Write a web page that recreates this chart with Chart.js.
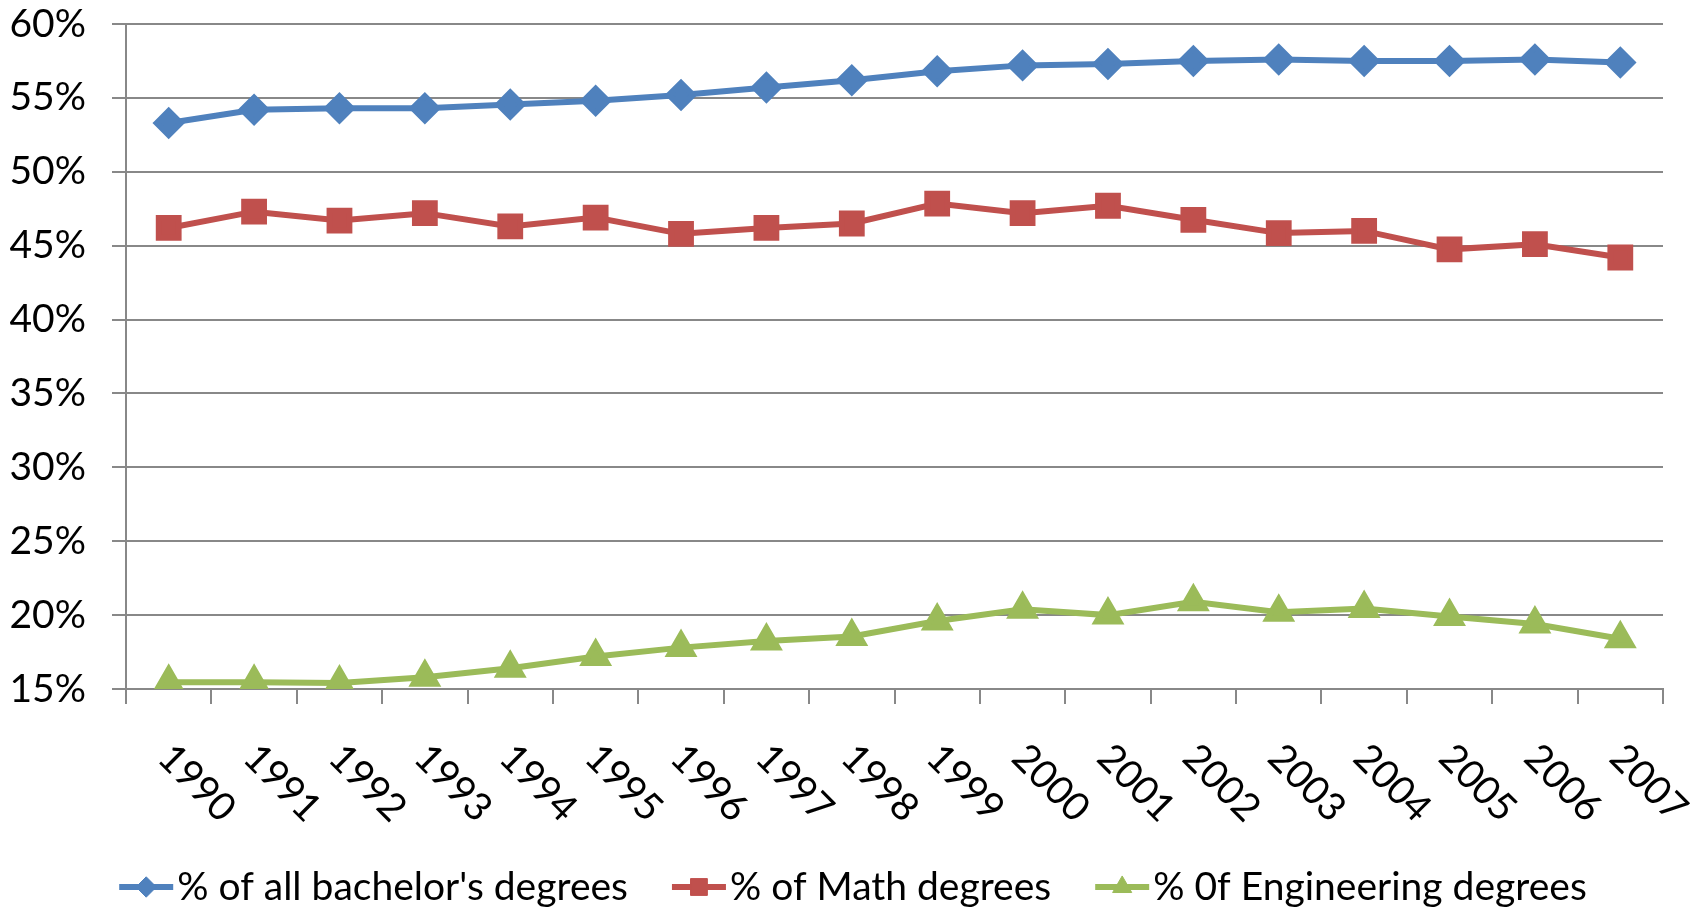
<!DOCTYPE html>
<html>
<head>
<meta charset="utf-8">
<script src="https://cdn.jsdelivr.net/npm/chart.js"></script>
<style>
  body { margin: 0; background: #fff; }
  #wrap { width: 1706px; height: 913px; position: relative; }
</style>
</head>
<body>
<div id="wrap"><canvas id="chart"></canvas></div>
<script>
// data
var years = ['1990','1991','1992','1993','1994','1995','1996','1997','1998',
             '1999','2000','2001','2002','2003','2004','2005','2006','2007'];
var allDegrees = [53.3, 54.2, 54.3, 54.3, 54.55, 54.8, 55.2, 55.7, 56.2,
                  56.8, 57.2, 57.3, 57.5, 57.6, 57.5, 57.5, 57.6, 57.4];
var mathDegrees = [46.2, 47.3, 46.7, 47.2, 46.3, 46.9, 45.8, 46.2, 46.5,
                   47.85, 47.2, 47.7, 46.75, 45.85, 46.0, 44.75, 45.1, 44.2];
var engDegrees = [15.45, 15.45, 15.4, 15.8, 16.4, 17.2, 17.8, 18.25, 18.55,
                  19.6, 20.4, 20.0, 20.9, 20.2, 20.45, 19.9, 19.4, 18.4];
var yTicks = [15, 20, 25, 30, 35, 40, 45, 50, 55, 60];

var FONT_FAMILY = 'Lato, "Open Sans", sans-serif';
var FONT_SIZE = 39;
var gridColor = '#888888';

// rotated year labels + legend with line and marker
var extrasPlugin = {
  id: 'extras',
  afterDraw: function(chart) {
    var ctx = chart.ctx;
    var xScale = chart.scales.x;
    ctx.save();
    ctx.font = FONT_SIZE + 'px ' + FONT_FAMILY;
    ctx.fillStyle = '#000';
    ctx.textBaseline = 'middle';
    ctx.textAlign = 'left';
    for (var i = 0; i < years.length; i++) {
      ctx.save();
      ctx.translate(xScale.getPixelForValue(i) - 4, chart.chartArea.bottom + 62);
      ctx.rotate(Math.PI / 4);
      ctx.fillText(years[i], 0, 0);
      ctx.restore();
    }

    // legend
    var lineLen = 54, gapText = 4, gapItem = 44, legendY = 887;
    var sets = chart.data.datasets;
    var widths = sets.map(function(ds) { return lineLen + gapText + ctx.measureText(ds.label).width; });
    var total = widths.reduce(function(a, b) { return a + b; }, 0) + gapItem * (sets.length - 1);
    var x = (chart.width - total) / 2;
    sets.forEach(function(ds, k) {
      ctx.strokeStyle = ds.borderColor;
      ctx.lineWidth = ds.borderWidth;
      ctx.beginPath();
      ctx.moveTo(x, legendY);
      ctx.lineTo(x + lineLen, legendY);
      ctx.stroke();
      ctx.fillStyle = ds.pointBackgroundColor;
      ctx.strokeStyle = ds.pointBorderColor;
      ctx.lineWidth = 1;
      Chart.helpers.drawPoint(ctx, {pointStyle: ds.pointStyle, radius: ds.pointRadius * 0.85, rotation: 0, borderWidth: 1},
        x + lineLen / 2, legendY);
      ctx.fillStyle = '#000';
      ctx.fillText(ds.label, x + lineLen + gapText, legendY);
      x += widths[k] + gapItem;
    });
    ctx.restore();
  }
};

function series(label, data, color, style, radius) {
  return {
    label: label,
    data: data,
    borderColor: color,
    backgroundColor: color,
    pointBackgroundColor: color,
    pointBorderColor: color,
    borderWidth: 6,
    pointStyle: style,
    pointRadius: radius,
    pointHoverRadius: radius,
    tension: 0
  };
}

var ctx = document.getElementById('chart').getContext('2d');
var myChart = new Chart(ctx, {
  type: 'line',
  data: {
    labels: years,
    datasets: [
      series("% of all bachelor's degrees", allDegrees, '#4F81BD', 'rectRot', 12),
      series('% of Math degrees', mathDegrees, '#C0504D', 'rect', 14),
      series('% 0f Engineering degrees', engDegrees, '#9BBB59', 'triangle', 13)
    ]
  },
  options: {
    responsive: true,
    maintainAspectRatio: false,
    animation: false,
    layout: { padding: { top: 24, right: 43, left: 0, bottom: 0 } },
    plugins: {
      legend: { display: false },
      tooltip: { enabled: false }
    },
    scales: {
      x: {
        offset: true,
        grid: {
          offset: true,
          drawOnChartArea: false,
          drawTicks: true,
          tickLength: 15,
          color: gridColor,
          lineWidth: 2
        },
        border: { color: gridColor, width: 2 },
        ticks: { display: false },
        afterFit: function(axis) { axis.height = 224; }
      },
      y: {
        min: 15,
        max: 60,
        afterBuildTicks: function(axis) {
          axis.ticks = yTicks.map(function(v) { return {value: v}; });
        },
        grid: {
          color: gridColor,
          lineWidth: 2,
          tickLength: 14
        },
        border: { color: gridColor, width: 2 },
        ticks: {
          padding: 26,
          color: '#000',
          font: { family: FONT_FAMILY, size: FONT_SIZE },
          callback: function(v) { return v + '%'; }
        },
        afterFit: function(axis) {
          axis.width = 126;
          axis.paddingTop = 20;
          axis.paddingBottom = 20;
        }
      }
    }
  },
  plugins: [extrasPlugin]
});
</script>
</body>
</html>
